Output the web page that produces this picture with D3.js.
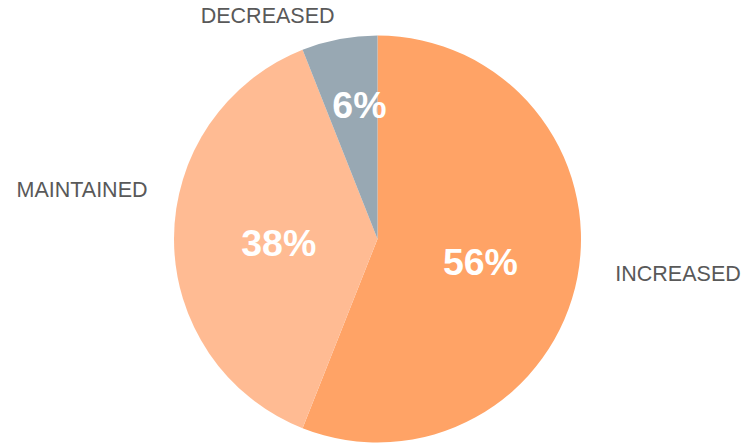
<!DOCTYPE html>
<html>
<head>
<meta charset="utf-8">
<script src="https://cdn.jsdelivr.net/npm/d3@7"></script>
<style>
  body { margin: 0; background: #fff; }
  text { font-family: "Liberation Sans", Arial, sans-serif; }
</style>
</head>
<body>
<div id="chart"></div>
<script>
// data
var categories = ["INCREASED", "MAINTAINED", "DECREASED"];
var values = [56, 38, 6];
var pctLabels = ["56%", "38%", "6%"];
var colors = ["#ffa366", "#ffbb93", "#98a8b3"];

var width = 749, height = 444;
var cx = 377.5, cy = 239, radius = 203.5;

// nudges for the label placement (layout only)
var innerNudge = [[3, 17], [3, 17], [1, -21]];
var outerNudge = [[81, 0], [-72, -42], [-68, 4]];

var svg = d3.select("#chart").append("svg")
    .attr("width", width)
    .attr("height", height)
  .append("g")
    .attr("transform", "translate(" + cx + "," + cy + ")");

var pie = d3.pie().sort(null).value(function(d) { return d; });
var arcs = pie(values);

var arc = d3.arc().innerRadius(0).outerRadius(radius);
var outerArc = d3.arc().innerRadius(radius + 20).outerRadius(radius + 20);

// slices
svg.selectAll("path.slice")
    .data(arcs)
  .enter().append("path")
    .attr("class", "slice")
    .attr("d", arc)
    .attr("fill", function(d, i) { return colors[i]; })
    .attr("stroke", "none");

// percent labels inside
svg.selectAll("text.pct")
    .data(arcs)
  .enter().append("text")
    .attr("class", "pct")
    .attr("x", function(d, i) { return arc.centroid(d)[0] + innerNudge[i][0]; })
    .attr("y", function(d, i) { return arc.centroid(d)[1] + innerNudge[i][1]; })
    .attr("text-anchor", "middle")
    .attr("fill", "#fff")
    .style("font-size", "37.5px")
    .style("font-weight", "bold")
    .text(function(d, i) { return pctLabels[i]; });

// category labels outside
svg.selectAll("text.cat")
    .data(arcs)
  .enter().append("text")
    .attr("class", "cat")
    .attr("x", function(d, i) { return outerArc.centroid(d)[0] + outerNudge[i][0]; })
    .attr("y", function(d, i) { return outerArc.centroid(d)[1] + outerNudge[i][1]; })
    .attr("text-anchor", "middle")
    .attr("fill", "#595959")
    .style("font-size", "21.5px")
    .text(function(d, i) { return categories[i]; });
</script>
</body>
</html>
